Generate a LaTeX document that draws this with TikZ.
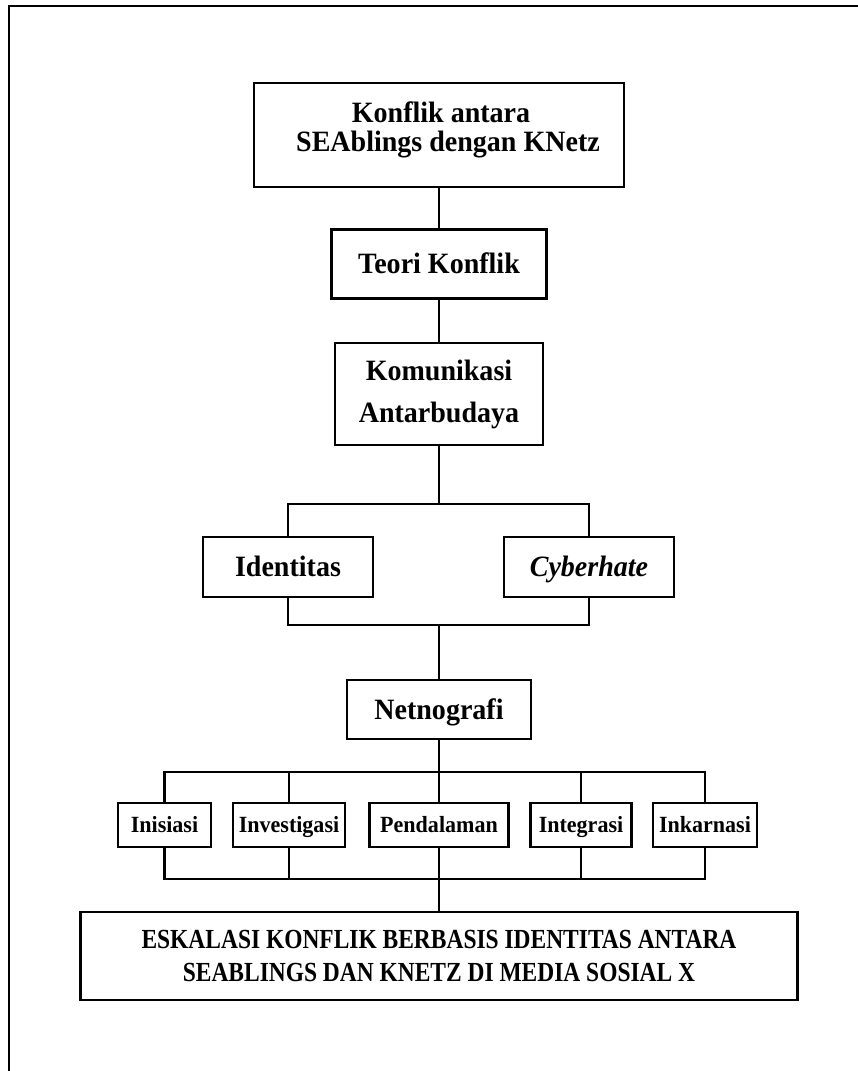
\documentclass[tikz,border=0pt]{standalone}
\usepackage{fontspec}
\setmainfont{Liberation Serif}[FakeStretch=0.95]
\newfontfamily\condfont{Liberation Serif}[FakeStretch=0.85]
\begin{document}
\begin{tikzpicture}[x=1pt,y=-1pt,
  box/.style={draw, line width=2.7pt, inner sep=0pt, align=center, font=\bfseries\fontsize{29.5}{29}\selectfont},
  onebox/.style={box, text height=19.5pt, text depth=0pt},
  smallbox/.style={box, minimum height=44pt, text height=15.3pt, text depth=0pt, font=\bfseries\fontsize{23.2}{24}\selectfont},
  txt/.style={inner sep=0pt, align=center, font=\bfseries\fontsize{29.5}{29}\selectfont},
  conn/.style={line width=2.7pt},
  frame/.style={line width=2.2pt}
]
\useasboundingbox (0,0) rectangle (858,1071);
\begin{scope}
  \clip (0,0) rectangle (858,1071);
  \draw[frame] (9,1090) -- (9,6) -- (880,6);
\end{scope}

% main spine
\node[box, minimum width=370pt, minimum height=104pt] (n1) at (439,135) {};
\node[txt] (n1t) at (441,130) {Konflik antara\\\ \ SEAblings dengan KNetz};
\node[onebox, minimum width=215pt, minimum height=69pt] (n2) at (439,264) {Teori Konflik};
\node[box, minimum width=208pt, minimum height=102pt, font=\bfseries\fontsize{29.5}{42}\selectfont] (n3) at (439,394) {Komunikasi\\Antarbudaya};

\node[onebox, minimum width=170pt, minimum height=60pt] (id) at (288,567) {Identitas};
\node[onebox, minimum width=170pt, minimum height=60pt] (cy) at (589,567) {\textit{Cyberhate}};

\node[onebox, minimum width=184pt, minimum height=59pt] (net) at (439,709.5) {Netnografi};

\node[smallbox, minimum width=93pt] (ini) at (164.5,825) {Inisiasi};
\node[smallbox, minimum width=112pt] (inv) at (289,825) {Investigasi};
\node[smallbox, minimum width=139pt] (pen) at (439,825) {Pendalaman};
\node[smallbox, minimum width=101pt] (int) at (581,825) {Integrasi};
\node[smallbox, minimum width=104pt] (ink) at (705,825) {Inkarnasi};

\node[box, minimum width=717pt, minimum height=88pt, font=\condfont\bfseries\fontsize{27.6}{33}\selectfont] (fin) at (439,956) {ESKALASI KONFLIK BERBASIS IDENTITAS ANTARA\\SEABLINGS DAN KNETZ DI MEDIA SOSIAL X};

% junction coordinates
\coordinate (b1) at (439,504);
\coordinate (b2) at (439,625);
\coordinate (b3) at (439,772);
\coordinate (b4) at (439,879);

% connectors
\draw[conn] (n1.south) -- (n2.north);
\draw[conn] (n2.south) -- (n3.north);
\draw[conn] (n3.south) -- (b1);
\draw[conn] (id.north) |- (b1) -| (cy.north);
\draw[conn] (id.south) |- (b2) -| (cy.south);
\draw[conn] (b2) -- (net.north);
\draw[conn] (net.south) -- (b3);
\draw[conn] (ini.north) |- (b3) -| (ink.north);
\draw[conn] (inv.north) -- (inv.north |- b3);
\draw[conn] (pen.north) -- (b3);
\draw[conn] (int.north) -- (int.north |- b3);
\draw[conn] (ini.south) |- (b4) -| (ink.south);
\draw[conn] (inv.south) -- (inv.south |- b4);
\draw[conn] (pen.south) -- (b4);
\draw[conn] (int.south) -- (int.south |- b4);
\draw[conn] (b4) -- (fin.north);
\end{tikzpicture}
\end{document}
